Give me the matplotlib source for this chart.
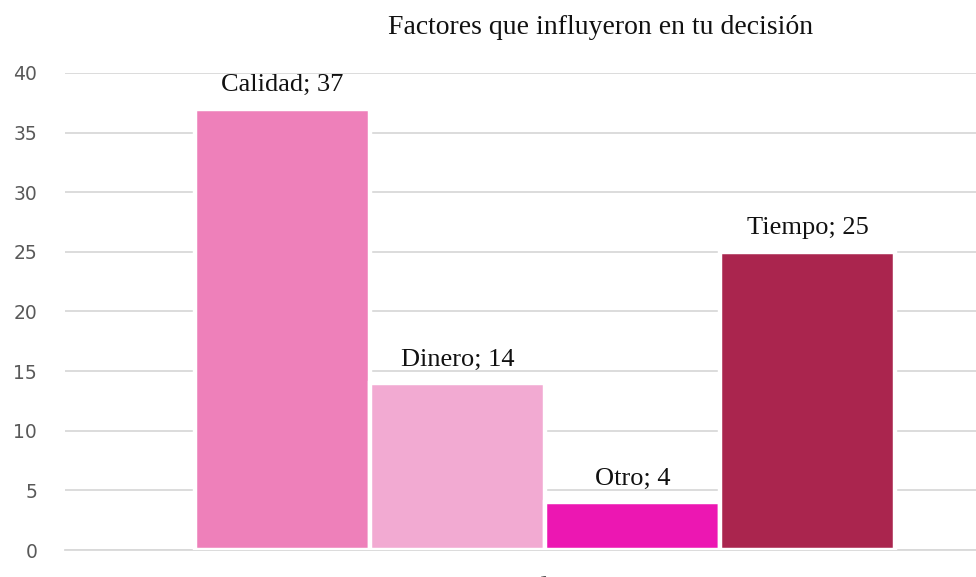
import matplotlib.pyplot as plt
import numpy as np

# data
categories = ["Calidad", "Dinero", "Otro", "Tiempo"]
values = [37, 14, 4, 25]
colors = ["#EE80BA", "#F2AAD2", "#EC17B2", "#AA254E"]
group_label = ["1"]

fig = plt.figure(figsize=(9.76, 5.77), dpi=100)
ax = fig.add_axes([65 / 976, 27 / 577, 960 / 976, 477 / 577])

bar_w = 175 / 960
offsets = (np.arange(len(categories)) - (len(categories) - 1) / 2) * bar_w
for off, cat, val, col in zip(offsets, categories, values, colors):
    ax.bar(off, val, width=bar_w, color=col, edgecolor="white", linewidth=3.2, zorder=3)
    ax.annotate(f"{cat}; {val}", (off, val), xytext=(0, 9), textcoords="offset points",
                ha="center", va="bottom", fontsize=19, family="Liberation Serif",
                color="#111111")

ax.set_xlim(-0.5, 0.5)
ax.set_ylim(0, 40)
ax.set_yticks(range(0, 41, 5))
ax.set_xticks([0])
ax.set_xticklabels(group_label)
ax.grid(axis="y", color="#D9D9D9", linewidth=1.3, zorder=0)
for s in ["left", "right", "top"]:
    ax.spines[s].set_visible(False)
ax.spines["bottom"].set_color("#D9D9D9")
ax.spines["bottom"].set_linewidth(1.3)
ax.tick_params(axis="y", length=0, pad=20, labelsize=13.5, labelcolor="#595959")
ax.tick_params(axis="x", length=0, pad=18, labelsize=13.5, labelcolor="#595959")

fig.text(601 / 976, 1 - 28 / 577, "Factores que influyeron en tu decisión",
         ha="center", va="center", fontsize=20, family="Liberation Serif", color="#111111")

fig.savefig("out.png", dpi=100)
